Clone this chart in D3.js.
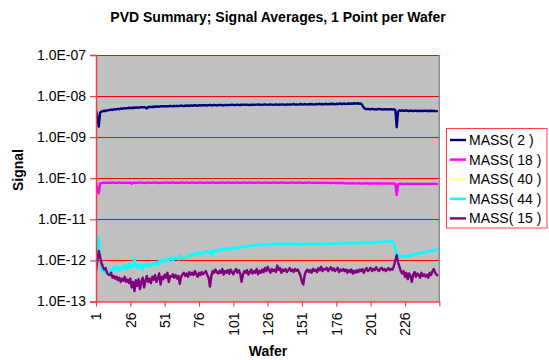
<!DOCTYPE html>
<html><head><meta charset="utf-8">
<script src="https://cdn.jsdelivr.net/npm/d3@7"></script>
<style>body{margin:0;background:#fff}text{font-family:Arial,"Liberation Sans",sans-serif}</style>
</head><body><svg id="c" width="549" height="360"></svg>
<script>
const title = "PVD Summary; Signal Averages, 1 Point per Wafer";
const xTitle = "Wafer";
const yTitle = "Signal";
const wafers = d3.range(1, 251);
const xTickValues = [1, 26, 51, 76, 101, 126, 151, 176, 201, 226, 251];
const xTickLabels = ["1", "26", "51", "76", "101", "126", "151", "176", "201", "226", ""];
const yTickValues = [1e-13, 1e-12, 1e-11, 1e-10, 1e-9, 1e-8, 1e-7];
const yTickLabels = ["1.0E-13", "1.0E-12", "1.0E-11", "1.0E-10", "1.0E-09", "1.0E-08", "1.0E-07"];
const seriesNames = ["MASS( 2 )", "MASS( 18 )", "MASS( 40 )", "MASS( 44 )", "MASS( 15 )"];
const seriesColors = ["#000080", "#ff00ff", "#ffff99", "#00ffff", "#800080"];
const seriesUnits = [1e-9, 1e-11, 1e-12, 1e-12, 1e-12];

// MASS( 2 ), in units of 1e-9
const mass2 = [
4.6,3.0,1.8,4.0,4.2,4.3,4.4,4.3,4.5,4.5, 4.6,4.7,4.6,4.8,4.7,4.8,4.9,4.8,5.0,4.9,
5.0,5.1,5.0,5.1,5.2,5.1,5.2,5.1,5.3,5.2, 5.3,5.2,5.3,5.4,5.3,5.4,5.3,5.0,5.4,5.5,
5.4,5.5,5.4,5.6,5.5,5.6,5.5,5.6,5.7,5.6, 5.7,5.6,5.7,5.6,5.8,5.7,5.6,5.8,5.7,5.8,
5.7,5.8,5.9,5.8,5.7,5.9,5.8,5.9,5.8,5.9, 5.9,5.8,6.0,5.9,5.8,6.0,5.9,6.0,5.9,6.0,
6.0,5.9,6.0,6.1,5.9,6.0,6.1,6.0,5.9,6.1, 6.0,6.1,6.0,5.9,6.1,6.0,6.1,6.0,6.1,6.2,
6.1,6.0,6.1,6.2,6.1,6.0,6.2,6.1,6.2,6.1, 6.2,6.1,6.0,6.2,6.1,6.2,6.1,6.2,6.3,6.1,
6.2,6.1,6.2,6.3,6.2,6.1,6.2,6.3,6.2,6.1, 6.2,6.3,6.2,6.1,6.3,6.2,6.3,6.2,6.1,6.3,
6.2,6.3,6.2,6.3,6.4,6.2,6.3,6.2,6.3,6.4, 6.3,6.2,6.4,6.3,6.2,6.4,6.3,6.4,6.3,6.2,
6.4,6.3,6.4,6.5,6.3,6.4,6.3,6.5,6.4,6.3, 6.5,6.4,6.5,6.4,6.3,6.5,6.4,6.5,6.6,6.4,
6.5,6.6,6.4,6.5,6.6,6.5,6.6,6.5,6.7,6.6, 6.6,6.7,6.5,6.6,6.0,5.2,4.9,4.8,4.9,4.8,
4.8,4.9,4.8,4.8,4.7,4.8,4.9,4.8,4.8,4.7, 4.8,4.8,4.7,4.8,4.7,4.8,4.7,4.8,4.6,1.75,
4.2,4.5,4.4,4.5,4.4,4.4,4.5,4.4,4.3,4.4, 4.4,4.3,4.4,4.4,4.3,4.4,4.3,4.4,4.3,4.4,
4.4,4.3,4.4,4.3,4.4,4.3,4.4,4.3,4.3,4.3];

// MASS( 18 ), in units of 1e-11
const mass18 = [
7.8,5.6,4.3,7.4,7.6,7.7,7.8,7.6,7.8,7.7, 7.8,7.7,7.9,7.7,7.8,7.6,7.8,7.9,7.7,7.8,
7.7,7.8,7.6,7.8,7.7,7.9,7.3,7.7,7.8,7.6, 7.8,7.7,7.9,7.8,7.7,7.8,7.6,7.8,7.9,7.7,
7.8,7.7,7.8,7.9,7.7,7.8,7.6,7.8,7.7,7.9, 7.7,7.8,7.9,7.7,7.8,7.7,7.9,7.8,7.6,7.8,
7.8,7.7,7.9,7.8,7.7,7.8,7.9,7.7,7.8,7.7, 7.9,7.8,7.7,7.8,7.6,7.8,7.9,7.7,7.8,7.7,
7.8,7.9,7.7,7.8,7.7,7.9,7.8,7.7,7.8,7.8, 7.7,7.8,7.9,7.7,7.8,7.7,7.8,7.9,7.7,7.8,
7.8,7.7,7.8,7.9,7.7,7.8,7.7,7.8,7.9,7.7, 7.8,7.7,7.9,7.8,7.7,7.8,7.8,7.7,7.9,7.8,
7.7,7.8,7.8,7.7,7.9,7.8,7.7,7.8,7.7,7.8, 7.9,7.7,7.8,7.7,7.8,7.9,7.7,7.8,7.8,7.7,
7.8,7.7,7.9,7.8,7.7,7.8,7.7,7.8,7.9,7.7, 7.8,7.7,7.8,7.8,7.7,7.9,7.8,7.7,7.8,7.7,
7.8,7.7,7.8,7.6,7.8,7.7,7.8,7.7,7.6,7.8, 7.7,7.6,7.8,7.7,7.6,7.7,7.6,7.7,7.5,7.7,
7.6,7.5,7.6,7.5,7.6,7.4,7.5,7.6,7.5,7.4, 7.5,7.6,7.5,7.4,7.5,7.4,7.5,7.6,7.4,7.5,
7.4,7.5,7.4,7.5,7.6,7.4,7.5,7.4,7.5,7.4, 7.5,7.4,7.5,7.4,7.5,7.4,7.5,7.4,7.2,3.9,
7.2,7.3,7.4,7.3,7.2,7.3,7.4,7.3,7.2,7.3, 7.3,7.2,7.3,7.4,7.3,7.2,7.3,7.3,7.2,7.3,
7.3,7.4,7.3,7.2,7.3,7.3,7.4,7.3,7.2,7.3];

// MASS( 40 ): above the plotted range, no visible points
const mass40 = [];

// MASS( 44 ), in units of 1e-12
const mass44 = [
1.15,2.0,3.8,1.3,0.6,0.55,0.62,0.5,0.55,0.45, 0.52,0.6,0.55,0.68,0.6,0.72,0.55,0.66,0.6,0.72,
0.65,0.78,0.6,0.72,0.88,0.66,0.76,0.7,1.1,0.76, 0.66,0.82,0.7,0.78,0.6,0.82,0.75,0.7,0.88,0.8,
0.7,0.82,0.88,0.8,0.92,0.76,0.98,1.02,0.9,1.06, 1.0,0.95,1.1,1.0,1.16,1.06,1.0,1.2,1.1,1.15,
1.05,1.25,1.3,1.1,1.08,1.12,1.2,1.3,1.35,1.25, 1.4,1.35,1.5,1.4,1.55,1.45,1.38,1.6,1.5,1.65,
1.55,1.7,1.6,1.5,1.75,1.4,1.7,1.8,1.65,1.85, 1.75,1.9,1.8,1.95,1.85,2.0,1.9,1.8,2.0,1.95,
2.05,1.9,2.0,2.1,1.95,2.1,2.2,2.05,2.15,2.25, 2.1,2.2,2.3,2.2,2.35,2.25,2.4,2.3,2.45,2.35,
2.4,2.5,2.35,2.45,2.55,2.4,2.5,2.45,2.35,2.5, 2.45,2.55,2.4,2.5,2.6,2.45,2.55,2.4,2.5,2.6,
2.5,2.65,2.45,2.55,2.4,2.5,2.6,2.45,2.35,2.5, 2.4,2.55,2.45,2.5,2.6,2.45,2.5,2.55,2.45,2.4,
2.5,2.55,2.45,2.6,2.5,2.45,2.55,2.6,2.5,2.45, 2.55,2.6,2.5,2.65,2.55,2.5,2.6,2.7,2.55,2.5,
2.6,2.7,2.55,2.65,2.75,2.6,2.7,2.55,2.65,2.7, 2.6,2.75,2.65,2.7,2.8,2.65,2.75,2.6,2.7,2.8,
2.7,2.75,2.65,2.6,2.75,2.85,2.7,2.8,2.9,2.75, 2.85,2.9,3.1,2.9,2.8,2.95,2.85,2.4,1.8,1.5,
1.35,1.28,1.3,1.2,1.28,1.18,1.3,1.22,1.35,1.25, 1.4,1.35,1.45,1.4,1.5,1.45,1.55,1.5,1.6,1.55,
1.65,1.6,1.7,1.65,1.75,1.7,1.8,1.75,1.85,1.9];

// MASS( 15 ), in units of 1e-12
const mass15 = [
0.55,1.0,1.7,1.2,0.85,0.7,0.6,0.65,0.5,0.45, 0.44,0.5,0.38,0.42,0.36,0.4,0.33,0.38,0.3,0.36,
0.32,0.4,0.3,0.34,0.28,0.36,0.22,0.3,0.18,0.33, 0.24,0.35,0.2,0.3,0.38,0.22,0.32,0.42,0.3,0.36,
0.28,0.4,0.34,0.44,0.3,0.38,0.48,0.26,0.4,0.35, 0.45,0.38,0.5,0.3,0.42,0.4,0.46,0.38,0.44,0.36,
0.42,0.27,0.4,0.46,0.5,0.42,0.48,0.4,0.52,0.45, 0.5,0.44,0.55,0.47,0.4,0.5,0.44,0.52,0.46,0.5,
0.55,0.45,0.38,0.23,0.42,0.55,0.5,0.6,0.52,0.48, 0.56,0.5,0.62,0.45,0.55,0.5,0.58,0.47,0.6,0.52,
0.46,0.55,0.62,0.5,0.58,0.48,0.3,0.45,0.55,0.5, 0.58,0.45,0.52,0.6,0.48,0.55,0.5,0.62,0.46,0.56,
0.5,0.6,0.52,0.65,0.55,0.7,0.58,0.5,0.62,0.55, 0.6,0.52,0.75,0.58,0.65,0.5,0.6,0.55,0.62,0.52,
0.58,0.65,0.55,0.6,0.52,0.62,0.56,0.6,0.5,0.42, 0.3,0.26,0.45,0.55,0.6,0.52,0.58,0.5,0.62,0.55,
0.6,0.52,0.65,0.58,0.7,0.55,0.62,0.6,0.66,0.55, 0.62,0.68,0.58,0.64,0.55,0.6,0.66,0.52,0.6,0.56,
0.62,0.55,0.6,0.5,0.58,0.52,0.6,0.48,0.56,0.5, 0.58,0.52,0.6,0.55,0.62,0.5,0.58,0.65,0.55,0.6,
0.66,0.55,0.62,0.58,0.68,0.6,0.55,0.62,0.66,0.58, 0.62,0.55,0.6,0.65,0.58,0.62,0.6,0.75,1.0,1.35,
0.9,0.7,0.55,0.48,0.55,0.4,0.5,0.35,0.48,0.42, 0.3,0.45,0.52,0.4,0.48,0.44,0.38,0.5,0.42,0.46,
0.4,0.45,0.38,0.5,0.44,0.55,0.62,0.5,0.45,0.42];

const seriesData = [mass2, mass18, mass40, mass44, mass15];

const svg = d3.select("#c");
const L = 96, R = 439.3, T = 55, B = 301.5;
const x = d3.scaleLinear().domain([1, 251]).range([L, R]);
const y = d3.scaleLog().domain([1e-13, 1e-7]).range([B, T]);

// plot background
svg.append("rect").attr("x", L).attr("y", T).attr("width", R - L).attr("height", B - T).attr("fill", "#c0c0c0");

// gridlines
svg.append("g").selectAll("line").data(yTickValues.slice(1)).join("line")
  .attr("x1", L).attr("x2", R).attr("y1", d => Math.round(y(d)) + 0.5).attr("y2", d => Math.round(y(d)) + 0.5)
  .attr("stroke", "#ff0000").attr("stroke-width", 1);

// right border of plot
svg.append("line").attr("x1", R).attr("x2", R).attr("y1", T).attr("y2", B).attr("stroke", "#808080").attr("stroke-width", 1.2);

// clip
svg.append("clipPath").attr("id", "clip").append("rect").attr("x", L).attr("y", T).attr("width", R - L).attr("height", B - T);

const gLines = svg.append("g").attr("clip-path", "url(#clip)");
seriesData.forEach((arr, i) => {
  if (!arr.length) return;
  const line = d3.line().x((d, j) => x(wafers[j])).y(d => y(d * seriesUnits[i])).curve(d3.curveLinear);
  gLines.append("path").datum(arr).attr("d", line).attr("fill", "none")
    .attr("stroke", seriesColors[i]).attr("stroke-width", 2.4).attr("stroke-linejoin", "round");
});

// axes
const axisColor = "#f04040";
const yAxis = d3.axisLeft(y).tickValues(yTickValues).tickFormat((d, i) => yTickLabels[i]).tickSize(6).tickPadding(4);
const gy = svg.append("g").attr("transform", `translate(${L},0)`).call(yAxis);
gy.select(".domain").attr("stroke", axisColor).attr("stroke-width", 1.5);
gy.selectAll(".tick line").attr("stroke", axisColor).attr("stroke-width", 1.2);
gy.selectAll("text").attr("font-size", 14).attr("fill", "#000").attr("font-family", "Arial, Liberation Sans, sans-serif");

const xAxis = d3.axisBottom(x).tickValues(xTickValues).tickFormat((d, i) => xTickLabels[i]).tickSize(5).tickSizeOuter(0);
const gx = svg.append("g").attr("transform", `translate(0,${B})`).call(xAxis);
gx.select(".domain").attr("stroke", axisColor).attr("stroke-width", 1.5);
gx.selectAll(".tick line").attr("stroke", axisColor).attr("stroke-width", 1.2);
gx.selectAll("text").attr("font-size", 14).attr("fill", "#000").attr("font-family", "Arial, Liberation Sans, sans-serif")
  .attr("transform", "rotate(-90)").attr("text-anchor", "end").attr("x", -11).attr("y", 0).attr("dy", "0.35em");

// titles
svg.append("text").attr("x", 278).attr("y", 22).attr("text-anchor", "middle").attr("font-size", 14).attr("font-weight", "bold").text(title);
svg.append("text").attr("x", 268).attr("y", 356).attr("text-anchor", "middle").attr("font-size", 14).attr("font-weight", "bold").text(xTitle);
svg.append("text").attr("transform", "translate(23,170) rotate(-90)").attr("text-anchor", "middle").attr("font-size", 14).attr("font-weight", "bold").text(yTitle);

// legend
const lg = svg.append("g");
lg.append("rect").attr("x", 446.5).attr("y", 128.5).attr("width", 100.5).attr("height", 99.5).attr("fill", "#fff").attr("stroke", "#ff4040").attr("stroke-width", 1);
seriesNames.forEach((n, i) => {
  const yy = 140 + i * 19.6;
  lg.append("line").attr("x1", 450).attr("x2", 466).attr("y1", yy).attr("y2", yy).attr("stroke", seriesColors[i]).attr("stroke-width", 2.4);
  lg.append("text").attr("x", 469).attr("y", yy).attr("dy", "0.36em").attr("font-size", 14).text(n);
});
</script></body></html>
